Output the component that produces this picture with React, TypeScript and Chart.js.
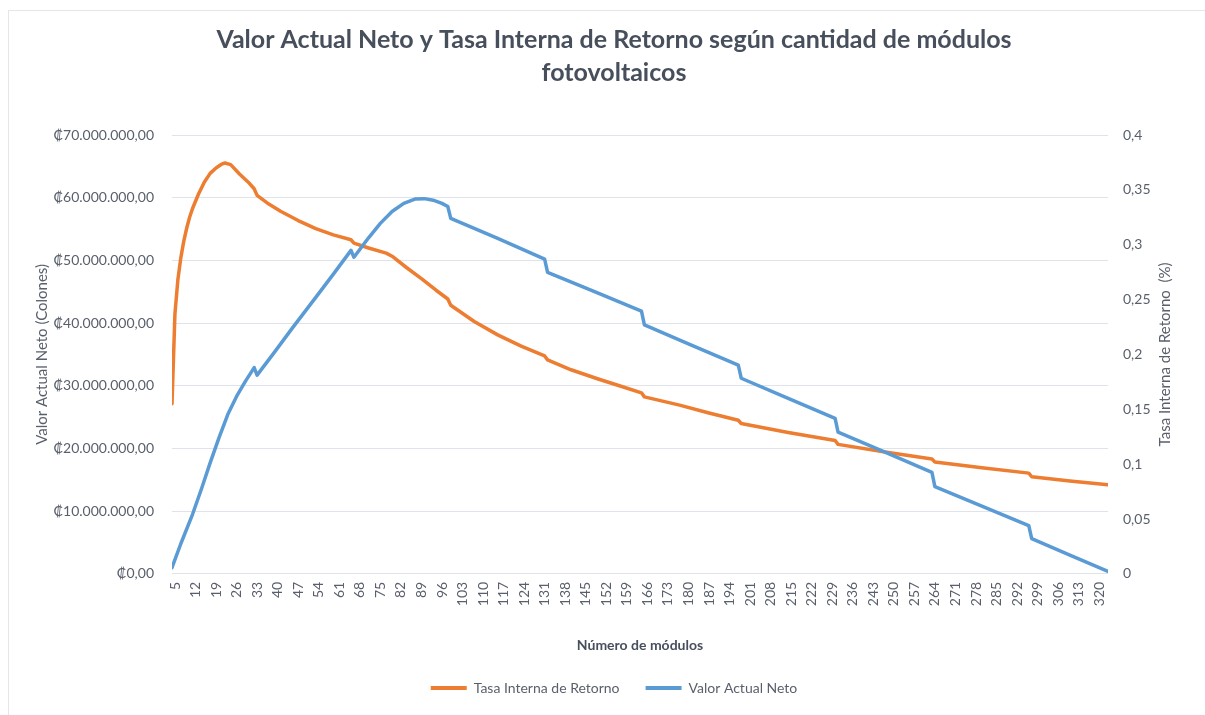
import React, { useEffect, useRef } from "react";
import { Chart, registerables } from "chart.js";

Chart.register(...registerables);

const vanModules = [5, 8, 12, 15, 18, 21, 24, 27, 30, 33, 34, 40, 46, 54, 60, 66, 67, 72, 76, 80, 84, 88, 91, 94, 97, 99, 100, 116, 132, 133, 149, 165, 166, 182, 198, 199, 215, 231, 232, 248, 264, 265, 281, 297, 298, 311, 324];
// Valor Actual Neto, in millions of colones
const vanMillions = [1.0, 4.8, 9.5, 13.5, 17.7, 21.7, 25.4, 28.3, 30.7, 32.9, 31.7, 35.4, 39.2, 44.1, 47.8, 51.6, 50.5, 53.6, 55.9, 57.8, 59.1, 59.8, 59.85, 59.6, 59.1, 58.6, 56.7, 53.5, 50.2, 48.1, 45.0, 41.9, 39.7, 36.5, 33.3, 31.2, 28.0, 24.8, 22.6, 19.4, 16.2, 13.9, 10.8, 7.7, 5.6, 3.0, 0.4];

const tirModules = [5, 6, 7, 8, 9, 10, 11, 12, 14, 16, 18, 20, 22, 23, 25, 28, 31, 33, 34, 38, 42, 48, 54, 60, 66, 67, 72, 78, 80, 85, 90, 95, 99, 100, 108, 116, 124, 132, 133, 141, 150, 158, 165, 166, 178, 188, 198, 199, 215, 231, 232, 248, 264, 265, 281, 297, 298, 311, 324];
// Tasa Interna de Retorno (fraction)
const tirValues = [0.155, 0.237, 0.268, 0.288, 0.303, 0.315, 0.325, 0.333, 0.346, 0.357, 0.365, 0.37, 0.3735, 0.3745, 0.373, 0.3645, 0.357, 0.351, 0.345, 0.337, 0.3305, 0.322, 0.3146, 0.309, 0.3045, 0.3015, 0.297, 0.2923, 0.2895, 0.279, 0.269, 0.2585, 0.2505, 0.2448, 0.23, 0.2178, 0.2075, 0.1986, 0.195, 0.186, 0.1778, 0.171, 0.165, 0.1613, 0.1538, 0.1466, 0.14, 0.137, 0.1288, 0.1215, 0.118, 0.111, 0.1046, 0.102, 0.0966, 0.0918, 0.0885, 0.0846, 0.0812];

const xTickValues = [5, 12, 19, 26, 33, 40, 47, 54, 61, 68, 75, 82, 89, 96, 103, 110, 117, 124, 131, 138, 145, 152, 159, 166, 173, 180, 187, 194, 201, 208, 215, 222, 229, 236, 243, 250, 257, 264, 271, 278, 285, 292, 299, 306, 313, 320];
const xMin = 5;
const xMax = 324;

const TEXT = "#595f6b";
const TITLE = "#474f5c";
const FONT = "Lato, 'Open Sans', sans-serif";

function fmtColones(v: number): string {
  const s = Math.round(v).toString().replace(/\B(?=(\d{3})+(?!\d))/g, ".");
  return "\u20A1" + s + ",00";
}
function fmtComma(v: number): string {
  return parseFloat(v.toFixed(2)).toString().replace(".", ",");
}

const rightTitlePlugin = {
  id: "rightTitle",
  afterDraw(chart: any) {
    const ca = chart.chartArea;
    const ctx = chart.ctx;
    ctx.save();
    ctx.translate(ca.right + 57, (ca.top + ca.bottom) / 2);
    ctx.rotate(-Math.PI / 2);
    ctx.font = "15px " + FONT;
    ctx.fillStyle = TEXT;
    ctx.textAlign = "center";
    ctx.textBaseline = "middle";
    ctx.fillText("Tasa Interna de Retorno  (%)", 0, 0);
    ctx.restore();
  },
};

export default function App() {
  const ref = useRef<HTMLCanvasElement | null>(null);
  useEffect(() => {
    if (!ref.current) return;
    const chart = new Chart(ref.current, {
      type: "line",
      data: {
        datasets: [
          {
            label: "Tasa Interna de Retorno",
            data: tirModules.map((m, i) => ({ x: m, y: tirValues[i] })),
            borderColor: "#ED7D31",
            backgroundColor: "#ED7D31",
            borderWidth: 3.5,
            pointRadius: 0,
            borderJoinStyle: "round",
            borderCapStyle: "round",
            yAxisID: "y1",
            order: 1,
          },
          {
            label: "Valor Actual Neto",
            data: vanModules.map((m, i) => ({ x: m, y: vanMillions[i] * 1000000 })),
            borderColor: "#5B9BD5",
            backgroundColor: "#5B9BD5",
            borderWidth: 3.5,
            pointRadius: 0,
            borderJoinStyle: "round",
            borderCapStyle: "round",
            yAxisID: "y",
            order: 0,
          },
        ],
      },
      options: {
        responsive: false,
        animation: false,
        devicePixelRatio: 1,
        layout: { padding: { left: 20, right: 6, top: 0, bottom: 10 } },
        plugins: {
          title: {
            display: true,
            text: [
              "Valor Actual Neto y Tasa Interna de Retorno según cantidad de módulos",
              "fotovoltaicos",
            ],
            color: TITLE,
            font: { family: FONT, size: 25, weight: "bold", lineHeight: 1.32 },
            padding: { top: 12, bottom: 46 },
          },
          legend: {
            position: "bottom",
            labels: {
              color: TEXT,
              font: { family: FONT, size: 14 },
              boxWidth: 36,
              boxHeight: 4,
              padding: 26,
              sort: (a: any, b: any) => a.datasetIndex - b.datasetIndex,
              generateLabels: (c: any) =>
                c.data.datasets.map((ds: any, i: number) => ({
                  text: ds.label,
                  fillStyle: ds.borderColor,
                  strokeStyle: ds.borderColor,
                  lineWidth: 0,
                  datasetIndex: i,
                  hidden: false,
                  fontColor: TEXT,
                })),
            },
          },
          tooltip: { enabled: false },
        },
        scales: {
          x: {
            type: "linear",
            min: xMin,
            max: xMax,
            afterBuildTicks: (scale: any) => {
              scale.ticks = xTickValues.map((v) => ({ value: v }));
            },
            ticks: {
              autoSkip: false,
              maxRotation: 90,
              minRotation: 90,
              padding: 8,
              labelOffset: 3,
              color: TEXT,
              font: { family: FONT, size: 14 },
              callback: (v: any) => String(v),
            },
            grid: { display: false, drawTicks: false },
            border: { display: false },
            title: {
              display: true,
              text: "Número de módulos",
              color: TITLE,
              font: { family: FONT, size: 14, weight: "bold" },
              padding: { top: 23, bottom: 1 },
            },
          },
          y: {
            position: "left",
            min: 0,
            max: 70000000,
            afterFit: (s: any) => {
              s.width = 143;
            },
            ticks: {
              stepSize: 10000000,
              padding: 18,
              color: TEXT,
              font: { family: FONT, size: 14 },
              callback: (v: any) => fmtColones(Number(v)),
            },
            grid: { color: "#e0e3e9", lineWidth: 1, drawTicks: false },
            border: { display: false },
            title: {
              display: true,
              text: "Valor Actual Neto (Colones)",
              color: TEXT,
              font: { family: FONT, size: 15 },
              padding: { top: 4, bottom: 6 },
            },
          },
          y1: {
            position: "right",
            min: 0,
            max: 0.4,
            afterFit: (s: any) => {
              s.width = 91;
            },
            ticks: {
              stepSize: 0.05,
              padding: 15,
              color: TEXT,
              font: { family: FONT, size: 14 },
              callback: (v: any) => fmtComma(Number(v)),
            },
            grid: { display: false, drawTicks: false },
            border: { display: false },
          },
        },
      },
      plugins: [rightTitlePlugin],
    } as any);
    return () => chart.destroy();
  }, []);

  return (
    <div
      style={{
        position: "absolute",
        left: 8,
        top: 10,
        width: 1197,
        height: 705,
        borderLeft: "1px solid #e3e7ec",
        borderTop: "1px solid #e3e7ec",
        boxSizing: "border-box",
        background: "#fff",
      }}
    >
      <canvas ref={ref} width={1196} height={704} style={{ display: "block" }} />
    </div>
  );
}
